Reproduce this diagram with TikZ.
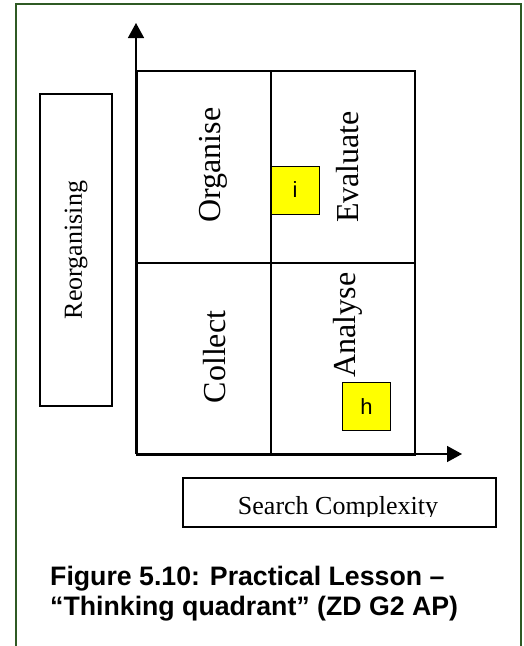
\documentclass[tikz,border=0pt]{standalone}
\usepackage{fontspec}
\setmainfont{Liberation Serif}
\newfontfamily\capfont{Liberation Sans}
\usetikzlibrary{arrows.meta, positioning}
\definecolor{FrameGreen}{HTML}{2F5A24}
\definecolor{MarkYellow}{HTML}{FFFF00}
\tikzset{
    % Quadrant cells
    cell/.style={
        rectangle,
        draw=black,
        line width=1.5pt,
        minimum height=192pt,
        inner sep=0pt
    },
    quad label/.style={
        rotate=90,
        inner sep=0pt,
        font=\fontsize{32}{36}\selectfont
    },
    % Boxes for the axis names
    axis box/.style={
        rectangle,
        draw=black,
        line width=1.5pt,
        inner sep=0pt,
        font=\fontsize{26}{30}\selectfont
    },
    mark box/.style={
        rectangle,
        draw=black,
        fill=MarkYellow,
        line width=1pt,
        minimum size=48pt,
        inner sep=0pt,
        font=\capfont\fontsize{22}{26}\selectfont
    },
    axis arrow/.style={
        -{Triangle[length=15pt, width=16pt]},
        line width=1.5pt,
        black
    },
    caption line/.style={
        anchor=base west,
        inner sep=0pt,
        font=\capfont\bfseries\fontsize{26.7}{30}\selectfont
    }
}

\begin{document}
\begin{tikzpicture}[x=1pt, y=-1pt]
    \clip (0,0) rectangle (524,646);

    % Outer frame, open at the bottom
    \draw[FrameGreen, line width=2pt] (16,660) -- (16,4) -- (521,4) -- (521,660);

    % Quadrant cells
    \node[cell, minimum width=134pt, anchor=north west] (organise) at (136,70) {};
    \node[cell, minimum width=144pt, anchor=north west] (evaluate) at (270,70) {};
    \node[cell, minimum width=134pt, anchor=north west] (collect) at (136,262) {};
    \node[cell, minimum width=144pt, anchor=north west] (analyse) at (270,262) {};

    % Quadrant labels
    \node[quad label] (organise label) at (213,165) {Organise};
    \node[quad label] (evaluate label) at (348,167) {Evaluate};
    \node[quad label] (collect label) at (215,357) {Collect};
    \node[quad label] (analyse label) at (348,325) {Analyse};

    % Axes
    \coordinate (origin) at (136,454);
    \coordinate (y tip) at (136,23);
    \coordinate (x tip) at (462,454);
    \draw[axis arrow] (origin) -- (y tip);
    \draw[axis arrow] (origin) -- (x tip);

    % Axis names
    \node[axis box, rotate=90, minimum width=312pt, minimum height=72pt] (reorg) at (76,250) {Reorganising};
    \node[axis box, minimum width=313pt, minimum height=49pt] (search) at (339.5,502.5) {};
    \begin{scope}
        \clip (183,470) rectangle (496,516);
        \node[anchor=base, inner sep=0pt, font=\fontsize{26}{30}\selectfont] (search label) at (338,514) {Search Complexity};
    \end{scope}

    % Marks
    \node[mark box] (mark i) at (295,190) {i};
    \node[mark box] (mark h) at (366.5,406.5) {h};

    % Caption
    \node[caption line] (caption one) at (50,585) {Figure 5.10: Practical Lesson –};
    \node[caption line] (caption two) at (50,615) {“Thinking quadrant” (ZD G2 AP)};
\end{tikzpicture}
\end{document}
